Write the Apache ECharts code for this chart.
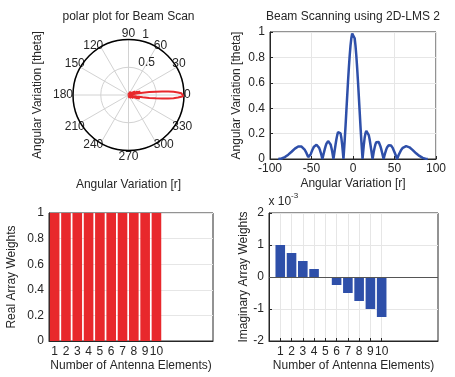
<!DOCTYPE html>
<html>
<head>
<meta charset="UTF-8">
<script src="https://cdn.jsdelivr.net/npm/echarts@6/dist/echarts.min.js"></script>
<style>
  html, body { margin: 0; padding: 0; background: #fff; }
  #chart { width: 455px; height: 377px; }
</style>
</head>
<body>
<div id="chart"></div>
<script>
// beam pattern (angle in degrees, normalised gain)
var beamAngle = [-90, -88, -86, -84, -82, -80, -78, -76, -74, -72, -70, -68, -66, -64, -62, -60, -58, -56, -55, -54,
  -53.1, -52, -51, -50, -49, -48, -47, -46, -45, -44, -43, -42, -41, -40, -39, -38, -36.9, -36, -35, -34,
  -33, -32, -31, -30, -29, -28, -27, -26, -25, -24, -23.6, -23, -22, -21, -20, -19, -18, -17, -16, -15,
  -14, -13, -12, -11.5, -11, -10, -9, -8, -7, -6, -5, -4, -3, -2, -1, 0,
  1, 2, 3, 4, 5, 6, 7, 8, 9, 10, 11, 11.5, 12, 13, 14, 15, 16, 17, 18, 19,
  20, 21, 22, 23, 23.6, 24, 25, 26, 27, 28, 29, 30, 31, 32, 33, 34, 35, 36, 36.9, 38,
  39, 40, 41, 42, 43, 44, 45, 46, 47, 48, 49, 50, 51, 52, 53.1, 54, 55, 56, 58, 60,
  62, 64, 66, 68, 70, 72, 74, 76, 78, 80, 82, 84, 86, 88, 90];
var beamGain = [0, 0.001, 0.004, 0.009, 0.015, 0.024, 0.034, 0.045, 0.057, 0.070, 0.082, 0.092, 0.099, 0.101, 0.098, 0.088, 0.071, 0.046, 0.031, 0.015,
  0, 0.020, 0.037, 0.054, 0.071, 0.085, 0.097, 0.106, 0.111, 0.112, 0.109, 0.102, 0.090, 0.074, 0.053, 0.030, 0, 0.024, 0.051, 0.078,
  0.101, 0.121, 0.134, 0.141, 0.141, 0.132, 0.115, 0.089, 0.057, 0.018, 0, 0.025, 0.070, 0.114, 0.155, 0.188, 0.212, 0.224, 0.221, 0.202,
  0.165, 0.110, 0.039, 0, 0.049, 0.149, 0.259, 0.377, 0.495, 0.610, 0.718, 0.813, 0.892, 0.951, 0.988, 1,
  0.988, 0.951, 0.892, 0.813, 0.718, 0.610, 0.495, 0.377, 0.259, 0.149, 0.049, 0, 0.039, 0.110, 0.165, 0.202, 0.221, 0.224, 0.212, 0.188,
  0.155, 0.114, 0.070, 0.025, 0, 0.018, 0.057, 0.089, 0.115, 0.132, 0.141, 0.141, 0.134, 0.121, 0.101, 0.078, 0.051, 0.024, 0, 0.030,
  0.053, 0.074, 0.090, 0.102, 0.109, 0.112, 0.111, 0.106, 0.097, 0.085, 0.071, 0.054, 0.037, 0.020, 0, 0.015, 0.031, 0.046, 0.071, 0.088,
  0.098, 0.101, 0.099, 0.092, 0.082, 0.070, 0.057, 0.045, 0.034, 0.024, 0.015, 0.009, 0.004, 0.001, 0];

// array weights (bottom plots)
var elementIndex = [1, 2, 3, 4, 5, 6, 7, 8, 9, 10];
var realWeights = [1, 1, 1, 1, 1, 1, 1, 1, 1, 1];
var imagWeights = [0.001, 0.00075, 0.0005, 0.00025, 0, -0.00025, -0.0005, -0.00075, -0.001, -0.00125];

var FONT = "'Liberation Sans', Arial, sans-serif";
var INK = '#262626';
var GRIDC = '#e6e6e6';
var RED = '#e8282c';
var BLUE = '#2e4fa9';
var POLAR_C = [128.5, 95], POLAR_R = 55.5;

var cartData = beamAngle.map(function (a, i) { return [a, beamGain[i]]; });
var polarData = beamAngle.map(function (a, i) { return [beamGain[i], a]; });
var realData = elementIndex.map(function (n, i) { return [n, realWeights[i]]; });
var imagData = elementIndex.map(function (n, i) { return [n, imagWeights[i]]; });

function label(extra) {
  return Object.assign({ color: INK, fontSize: 12, fontFamily: FONT }, extra || {});
}
function txt(x, y, text, opts) {
  opts = opts || {};
  return {
    type: 'text', x: x, y: y, rotation: opts.rot || 0, silent: true,
    style: {
      text: text, fill: opts.color || INK, font: (opts.size || 12) + 'px ' + FONT,
      align: opts.align || 'center', verticalAlign: 'middle'
    }
  };
}
function valueAxis(gi, min, max, extra) {
  return Object.assign({
    type: 'value', gridIndex: gi, min: min, max: max,
    nameLocation: 'middle', nameTextStyle: label(),
    axisLine: { onZero: false, lineStyle: { color: INK } },
    axisTick: { inside: true, length: 3, lineStyle: { color: INK } },
    axisLabel: label({ margin: 4 }),
    splitLine: { show: true, lineStyle: { color: GRIDC } }
  }, extra);
}
var hidden = { axisLine: { show: false }, axisTick: { show: false }, axisLabel: { show: false }, splitLine: { show: false } };
function isCardinal(v) { return v % 90 === 0; }

var chart = echarts.init(document.getElementById('chart'));
chart.setOption({
  animation: false,
  backgroundColor: '#fff',
  grid: [
    { left: 270, top: 32, width: 166, height: 127, show: true, borderColor: INK, backgroundColor: 'transparent' },
    { left: 49, top: 213, width: 164, height: 128, show: true, borderColor: INK, backgroundColor: 'transparent' },
    { left: 269, top: 213, width: 169, height: 128, show: true, borderColor: INK, backgroundColor: 'transparent' }
  ],
  // 0: main polar, 1: radius tick labels along 82 deg, 2: diagonal angle labels
  polar: [
    { center: POLAR_C, radius: POLAR_R },
    { center: POLAR_C, radius: POLAR_R },
    { center: POLAR_C, radius: POLAR_R }
  ],
  angleAxis: [
    {
      polarIndex: 0, type: 'value', min: 0, max: 360, interval: 30, startAngle: 0, clockwise: false,
      axisLine: { lineStyle: { color: '#000', width: 1.5 } },
      axisTick: { show: false },
      axisLabel: label({ margin: 0, formatter: function (v) { return isCardinal(v) ? String(v) : ''; } }),
      splitLine: { show: true, lineStyle: { color: '#d2d2d2' } }
    },
    Object.assign({ polarIndex: 1, type: 'value', min: 0, max: 360, startAngle: 82, clockwise: false }, hidden),
    {
      polarIndex: 2, type: 'value', min: 0, max: 360, interval: 30, startAngle: 0, clockwise: false,
      axisLine: { show: false }, axisTick: { show: false }, splitLine: { show: false },
      axisLabel: label({ margin: -5, formatter: function (v) { return isCardinal(v) ? '' : String(v); } })
    }
  ],
  radiusAxis: [
    {
      polarIndex: 0, type: 'value', min: 0, max: 1, interval: 0.5,
      axisLine: { show: false }, axisTick: { show: false }, axisLabel: { show: false },
      splitLine: { show: true, lineStyle: { color: '#d2d2d2' } }
    },
    {
      polarIndex: 1, type: 'value', min: 0, max: 1, interval: 0.5,
      axisLine: { show: false }, axisTick: { show: false }, splitLine: { show: false },
      axisLabel: label({ showMinLabel: false, margin: -6, align: 'left', verticalAlign: 'bottom' })
    },
    Object.assign({ polarIndex: 2, type: 'value', min: 0, max: 1 }, hidden)
  ],
  xAxis: [
    valueAxis(0, -100, 100, { interval: 50, name: 'Angular Variation [r]', nameGap: 19 }),
    valueAxis(1, 0.5, 15, {
      name: 'Number of Antenna Elements)', nameGap: 19,
      axisLabel: label({ margin: 5, customValues: elementIndex }),
      axisTick: { inside: true, length: 3, lineStyle: { color: INK }, customValues: elementIndex },
      splitLine: { show: false }
    }),
    valueAxis(2, 0, 15, {
      name: 'Number of Antenna Elements)', nameGap: 19,
      axisLabel: label({ margin: 5, customValues: elementIndex }),
      axisTick: { inside: true, length: 3, lineStyle: { color: INK }, customValues: elementIndex }
    })
  ],
  yAxis: [
    valueAxis(0, 0, 1, { interval: 0.2, name: 'Angular Variation [theta]', nameGap: 27, axisLabel: label({ margin: 5 }) }),
    valueAxis(1, 0, 1, { interval: 0.2, name: 'Real Array Weights', nameGap: 31, axisLabel: label({ margin: 5 }) }),
    valueAxis(2, -0.002, 0.002, {
      interval: 0.001, name: 'Imaginary Array Weights', nameGap: 19,
      axisLabel: label({ margin: 5, formatter: function (v) { return String(Math.round(v * 1000)); } })
    })
  ],
  graphic: [
    txt(128.5, 17, 'polar plot for Beam Scan'),
    txt(353, 17, 'Beam Scanning using 2D-LMS 2'),
    txt(37.5, 95, 'Angular Variation [theta]', { rot: Math.PI / 2 }),
    txt(128.5, 185, 'Angular Variation [r]'),
    txt(268.5, 202, 'x 10', { align: 'left' }),
    txt(291, 196, '-3', { align: 'left', size: 8 })
  ],
  series: [
    {
      type: 'line', xAxisIndex: 0, yAxisIndex: 0, data: cartData, showSymbol: false,
      lineStyle: { color: BLUE, width: 2.5 }, itemStyle: { color: BLUE }
    },
    {
      type: 'line', coordinateSystem: 'polar', polarIndex: 0, data: polarData, showSymbol: false,
      lineStyle: { color: RED, width: 2 }, itemStyle: { color: RED }
    },
    {
      type: 'bar', xAxisIndex: 1, yAxisIndex: 1, data: realData, barWidth: 9.6,
      itemStyle: { color: RED }
    },
    {
      type: 'bar', xAxisIndex: 2, yAxisIndex: 2, data: imagData, barWidth: 9.6,
      itemStyle: { color: BLUE },
      markLine: {
        silent: true, symbol: 'none', label: { show: false },
        lineStyle: { color: '#555', type: 'solid', width: 1 },
        data: [{ yAxis: 0 }]
      }
    }
  ]
});
</script>
</body>
</html>
